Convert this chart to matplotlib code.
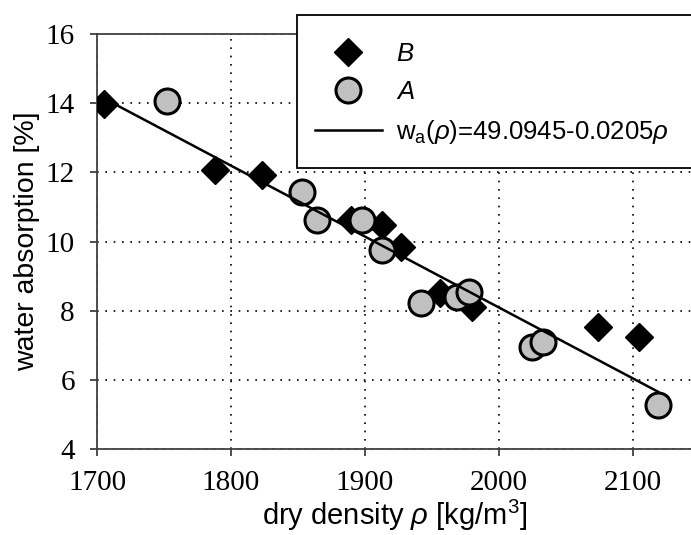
import matplotlib
matplotlib.use("Agg")
import matplotlib.pyplot as plt
import numpy as np
from matplotlib.lines import Line2D
from matplotlib.patches import Rectangle

# ---- data ----
b_density = [1705, 1788, 1823, 1890, 1913, 1927, 1956, 1980, 2074, 2105]
b_absorp = [13.98, 12.07, 11.92, 10.62, 10.48, 9.84, 8.51, 8.11, 7.53, 7.24]
a_density = [1752, 1853, 1864, 1898, 1913, 1942, 1969, 1978, 2025, 2033, 2119]
a_absorp = [14.06, 11.43, 10.62, 10.62, 9.75, 8.22, 8.39, 8.54, 6.95, 7.09, 5.27]
fit_a, fit_b = 49.0945, -0.0205
xticks = [1700, 1800, 1900, 2000, 2100]
yticks = [4, 6, 8, 10, 12, 14, 16]

plt.rcParams['mathtext.fontset'] = 'custom'
plt.rcParams['mathtext.rm'] = 'Liberation Sans'
plt.rcParams['mathtext.it'] = 'Liberation Sans:italic'
plt.rcParams['font.family'] = 'Liberation Sans'

W, H = 691, 535
fig = plt.figure(figsize=(W / 100, H / 100), dpi=100)
ax = fig.add_axes([97 / W, 86 / H, 616 / W, 415 / H])

ax.set_xlim(1700, 2160)
ax.set_ylim(4, 16)
ax.set_xticks(xticks)
ax.set_yticks(yticks)

ax.grid(True, color='black', linestyle=(0, (1, 4)), linewidth=1.2)
ax.set_axisbelow(True)

ax.plot(b_density, b_absorp, linestyle='none', marker='D', markersize=14,
        markerfacecolor='black', markeredgecolor='black', markeredgewidth=1,
        zorder=3)
ax.plot(a_density, a_absorp, linestyle='none', marker='o', markersize=18,
        markerfacecolor='#c0c0c0', markeredgecolor='black', markeredgewidth=2.2,
        zorder=4)
xs = np.array([min(b_density + a_density), max(b_density + a_density)])
ax.plot(xs, fit_a + fit_b * xs, color='black', linewidth=1.8, zorder=5)

for s in ['right']:
    ax.spines[s].set_visible(False)
for s in ['left', 'bottom', 'top']:
    ax.spines[s].set_color('#404040')
    ax.spines[s].set_linewidth(1.3)

ax.tick_params(axis='both', direction='out', length=5, width=1.3,
               color='#404040', labelsize=21)
ax.tick_params(axis='y', pad=11)
ax.tick_params(axis='x', pad=10)
for lab in ax.get_xticklabels() + ax.get_yticklabels():
    lab.set_fontfamily('Liberation Serif')
ax.tick_params(top=False, right=False)

ax.set_xlabel(r'dry density $\rho$ [kg/m$^3$]', fontsize=21)
ax.set_ylabel('water absorption [%]', fontsize=20.5)
ax.xaxis.set_label_coords(0.484, -0.118)
ax.yaxis.set_label_coords(-0.093, 0.5)

# legend frame
fig.patches.append(Rectangle((297 / W, 1 - 168 / H), (420) / W, (168 - 15) / H,
                             transform=fig.transFigure, facecolor='white',
                             edgecolor='black', linewidth=1.3, zorder=6))

handles = [
    Line2D([], [], linestyle='none', marker='D', markersize=14,
           markerfacecolor='black', markeredgecolor='black', markeredgewidth=1),
    Line2D([], [], linestyle='none', marker='o', markersize=18,
           markerfacecolor='#c0c0c0', markeredgecolor='black', markeredgewidth=2.2),
    Line2D([], [], color='black', linewidth=1.8),
]
labels = ['$B$', '$A$', r'w$_{\mathrm{a}}$($\rho$)=49.0945-0.0205$\rho$']
leg = fig.legend(handles, labels, loc='upper left',
                 bbox_to_anchor=(315 / W, 1 - 42 / H),
                 bbox_transform=fig.transFigure, frameon=False, fontsize=18.5,
                 borderpad=0, borderaxespad=0, handlelength=2.6,
                 handletextpad=0.55, labelspacing=0.55)
leg.set_zorder(7)

fig.savefig('out.png', dpi=100)
